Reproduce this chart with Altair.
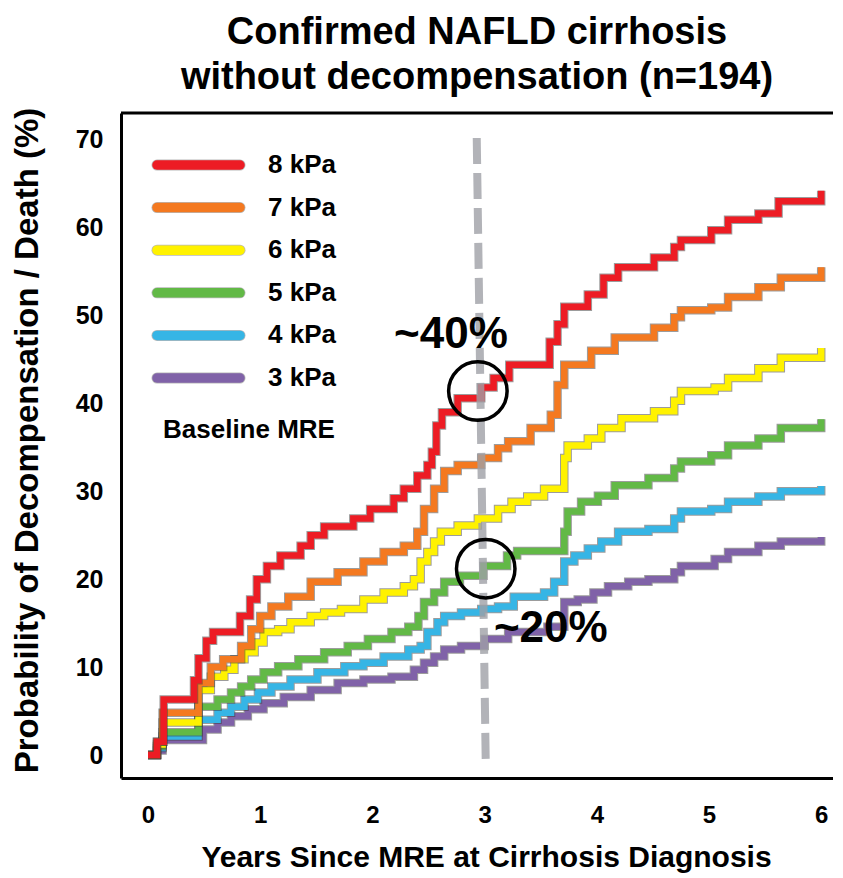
import altair as alt
import pandas as pd

FONT = "Liberation Sans"

labels = ["8 kPa", "7 kPa", "6 kPa", "5 kPa", "4 kPa", "3 kPa"]
colors = ["#ED1C24", "#F47920", "#FFF200", "#62B946", "#36B5E5", "#8062A8"]
legend_title = "Baseline MRE"

red_t = [0, 0.08, 0.14, 0.41, 0.45, 0.52, 0.58, 0.82, 0.91, 0.97, 1.06, 1.18, 1.36, 1.45, 1.57, 1.83, 1.98, 2.19, 2.28, 2.4, 2.49, 2.53, 2.57, 2.62, 2.76, 2.97, 3.08, 3.22, 3.58, 3.65, 3.71, 3.92, 4.06, 4.19, 4.51, 4.69, 4.75, 5.02, 5.17, 5.44, 5.62, 6.0]
red_p = [0, 1.5, 6.3, 8.5, 11, 13, 14, 15.8, 17.7, 20, 21.5, 22.7, 23.8, 25, 26, 26.9, 28, 29.2, 30.3, 31.8, 33, 34.5, 37.5, 39, 40.6, 41.8, 42.9, 44.4, 47, 49, 51, 52.4, 54.3, 55.5, 56.6, 57.8, 58.6, 59.7, 60.9, 61.6, 63.0, 64.2]

orange_t = [0, 0.08, 0.13, 0.45, 0.56, 0.67, 0.83, 0.92, 1.0, 1.1, 1.25, 1.45, 1.69, 1.92, 2.1, 2.28, 2.4, 2.46, 2.55, 2.64, 2.76, 2.97, 3.12, 3.21, 3.41, 3.59, 3.65, 3.71, 3.95, 4.16, 4.51, 4.69, 4.75, 5.02, 5.17, 5.44, 5.64, 6.0]
orange_p = [0, 1.5, 4.8, 8.2, 10, 10.9, 12.4, 14.3, 15.8, 16.9, 18, 19.7, 20.8, 22, 23.1, 23.8, 25.4, 28, 30.3, 32.3, 33, 33.8, 34.9, 35.7, 37.2, 38.7, 42.1, 44.4, 46, 47.5, 48.6, 49.8, 50.6, 50.9, 52.1, 53.2, 54.3, 55.5]

yellow_t = [0, 0.08, 0.13, 0.45, 0.56, 0.68, 0.77, 0.86, 0.95, 1.03, 1.16, 1.27, 1.45, 1.57, 1.72, 1.92, 2.1, 2.28, 2.37, 2.43, 2.49, 2.55, 2.61, 2.76, 2.94, 3.12, 3.24, 3.38, 3.53, 3.71, 3.74, 3.92, 4.04, 4.22, 4.51, 4.69, 4.75, 5.05, 5.17, 5.44, 5.64, 6.0]
yellow_p = [0, 1.2, 3.7, 7.4, 8.9, 9.7, 10.9, 11.7, 12.8, 14, 14.3, 15.1, 15.8, 16.2, 16.6, 17.7, 18.5, 19.2, 20, 22, 23.1, 24.3, 25.4, 26.1, 26.9, 28, 28.8, 29.4, 30.3, 33.8, 35.2, 36, 37.2, 38.3, 39.1, 40.3, 41.4, 41.8, 42.9, 44, 45.2, 46.3]

green_t = [0, 0.08, 0.13, 0.45, 0.62, 0.74, 0.83, 0.92, 1.03, 1.16, 1.34, 1.57, 1.78, 1.96, 2.17, 2.32, 2.41, 2.46, 2.55, 2.64, 2.78, 2.99, 3.2, 3.29, 3.71, 3.74, 3.86, 4.01, 4.16, 4.46, 4.69, 4.75, 5.02, 5.17, 5.44, 5.64, 6.0]
green_p = [0, 1.0, 2.6, 5.5, 6.3, 7.1, 7.8, 8.6, 9.4, 10.1, 10.9, 11.7, 12.4, 13.2, 14, 14.6, 15.8, 17.4, 18.5, 19.7, 20.4, 21.5, 22.7, 23.2, 25.4, 27.7, 28.8, 29.5, 30.7, 31.5, 32.6, 33.4, 34.1, 35.2, 36, 37.2, 38.2]

blue_t = [0, 0.08, 0.13, 0.45, 0.62, 0.74, 0.86, 0.98, 1.1, 1.27, 1.51, 1.75, 1.92, 2.1, 2.32, 2.43, 2.49, 2.58, 2.64, 2.79, 2.97, 3.12, 3.26, 3.53, 3.62, 3.71, 3.8, 3.92, 4.04, 4.19, 4.46, 4.69, 4.75, 5.02, 5.17, 5.44, 5.64, 6.0]
blue_p = [0, 0.8, 2.1, 4, 4.8, 5.5, 6.3, 7.1, 7.8, 8.6, 9.4, 10.1, 10.5, 11.2, 12, 12.4, 14, 15.1, 15.8, 16.2, 16.6, 16.9, 18, 18.5, 19.7, 22, 22.7, 23.5, 24.3, 25.4, 25.7, 26.9, 27.7, 28, 28.8, 29.4, 30.0, 30.6]

purple_t = [0, 0.08, 0.13, 0.49, 0.62, 0.74, 0.89, 1.03, 1.21, 1.45, 1.69, 1.92, 2.17, 2.37, 2.46, 2.55, 2.64, 2.79, 3.0, 3.21, 3.56, 3.71, 3.83, 3.97, 4.1, 4.28, 4.46, 4.69, 4.75, 5.05, 5.17, 5.44, 5.64, 6.0]
purple_p = [0, 0.5, 1.7, 2.9, 3.7, 4.4, 5.2, 5.9, 6.6, 7.4, 8.2, 8.6, 8.9, 9.7, 10.5, 11.2, 12, 12.4, 13.2, 14, 14.6, 17.4, 17.7, 18.5, 19.2, 19.7, 20, 20.8, 21.5, 22.3, 23.1, 23.8, 24.3, 24.8]

ann_text = ["~40%", "~20%"]
ann_x = [2.70, 3.59]
ann_y = [47.8, 14.3]

circle_x = [2.94, 3.01]
circle_y = [41.4, 21.2]

dash_x = [2.93]
dash_x2 = [3.01]
dash_y = [70.2]
dash_y2 = [-0.8]

x_ticks = [0, 1, 2, 3, 4, 5, 6]
y_ticks = [0, 10, 20, 30, 40, 50, 60, 70]

W, H = 712, 665
PX_PER_YEAR = 112.2
PX_PER_PCT = 8.79
x_min = -27 / PX_PER_YEAR
x_max = x_min + W / PX_PER_YEAR
y_max = 642 / PX_PER_PCT
y_min = y_max - H / PX_PER_PCT

x_enc = alt.X(
    "t:Q",
    scale=alt.Scale(domain=[x_min, x_max], nice=False, zero=False),
    axis=alt.Axis(
        values=x_ticks, format="d", title="Years Since MRE at Cirrhosis Diagnosis",
        labelFontSize=24, labelFont=FONT, labelFontWeight="bold", labelColor="black",
        labelPadding=25, ticks=False, grid=False, domainColor="black", domainWidth=3,
        titleFontSize=30, titleFont=FONT, titleFontWeight="bold", titleColor="black",
        titlePadding=15, titleX=365,
    ),
)
y_enc = alt.Y(
    "p:Q",
    scale=alt.Scale(domain=[y_min, y_max], nice=False, zero=False),
    axis=alt.Axis(
        values=y_ticks, format="d", title="Probability of Decompensation / Death (%)",
        labelFontSize=25, labelFont=FONT, labelFontWeight="bold", labelColor="black",
        labelPadding=18, ticks=False, grid=False, domainColor="black", domainWidth=3,
        titleFontSize=33, titleFont=FONT, titleFontWeight="bold", titleColor="black",
        titlePadding=31, titleY=327,
    ),
)
color_scale = alt.Scale(domain=labels, range=colors)

series = [
    ("3 kPa", purple_t, purple_p),
    ("4 kPa", blue_t, blue_p),
    ("5 kPa", green_t, green_p),
    ("6 kPa", yellow_t, yellow_p),
    ("7 kPa", orange_t, orange_p),
    ("8 kPa", red_t, red_p),
]

main_layers = []
for label, t, p in series:
    df = pd.DataFrame({"t": t, "p": p, "label": label})
    base = alt.Chart(df)
    main_layers.append(
        base.mark_line(interpolate="step-after", color="#3a3a3a", strokeWidth=8.5, opacity=0.5)
        .encode(x=x_enc, y=y_enc)
    )
    main_layers.append(
        base.mark_line(interpolate="step-after", strokeWidth=6.5)
        .encode(x=x_enc, y=y_enc, color=alt.Color("label:N", scale=color_scale, legend=None))
    )

dash_df = pd.DataFrame({"t": dash_x, "t2": dash_x2, "p": dash_y, "p2": dash_y2})
dash = alt.Chart(dash_df).mark_rule(color="#9FA0A6", strokeWidth=8, strokeDash=[26, 9], opacity=0.8).encode(
    x=x_enc, x2="t2:Q", y=y_enc, y2="p2:Q"
)

circ_df = pd.DataFrame({"t": circle_x, "p": circle_y})
circles = alt.Chart(circ_df).mark_point(shape="circle", size=3421, filled=False, color="black", strokeWidth=3.5, opacity=1).encode(
    x=x_enc, y=y_enc
)

ann_df = pd.DataFrame({"t": ann_x, "p": ann_y, "txt": ann_text})
ann = alt.Chart(ann_df).mark_text(font=FONT, fontWeight="bold", fontSize=44, color="black", baseline="middle", align="center").encode(
    x=x_enc, y=y_enc, text="txt:N"
)

top_border = alt.Chart(pd.DataFrame({"a": [0]})).mark_rule(color="black", strokeWidth=3).encode(
    x=alt.value(0), x2=alt.value(W), y=alt.value(0)
)

main = alt.layer(*main_layers, dash, circles, ann, top_border)

leg_df = pd.DataFrame({"label": labels})
leg_y = alt.Y("label:N", scale=alt.Scale(type="point", domain=labels, range=[52, 265], padding=0), axis=None)
leg_outline = alt.Chart(leg_df).mark_rule(strokeWidth=11, strokeCap="round", color="#888888", opacity=0.6).encode(
    x=alt.value(36), x2=alt.value(119), y=leg_y
)
leg_rules = alt.Chart(leg_df).mark_rule(strokeWidth=9.5, strokeCap="round").encode(
    x=alt.value(36), x2=alt.value(119), y=leg_y,
    color=alt.Color("label:N", scale=color_scale, legend=None),
)
leg_text = alt.Chart(leg_df).mark_text(font=FONT, fontWeight="bold", fontSize=26, align="left", baseline="middle", color="black").encode(
    x=alt.value(147), y=leg_y, text="label:N"
)
leg_title = alt.Chart(pd.DataFrame({"txt": [legend_title]})).mark_text(
    font=FONT, fontWeight="bold", fontSize=26, align="left", baseline="middle", color="black"
).encode(x=alt.value(42), y=alt.value(317), text="txt:N")

legend = alt.layer(leg_outline, leg_rules, leg_text, leg_title)

chart = (
    alt.layer(main, legend)
    .resolve_scale(y="independent")
    .properties(
        width=W,
        height=H,
        padding={"left": 113, "top": 105, "right": 0, "bottom": 96},
        autosize=alt.AutoSizeParams(type="none"),
        title=alt.TitleParams(
            ["Confirmed NAFLD cirrhosis", "without decompensation (n=194)"],
            fontSize=38, font=FONT, fontWeight="bold", color="black",
            anchor="middle", lineHeight=45, offset=10,
        ),
        background="white",
    )
    .configure_view(stroke=None)
)

chart.save("out.html", embed_options={"renderer": "svg", "actions": False})
